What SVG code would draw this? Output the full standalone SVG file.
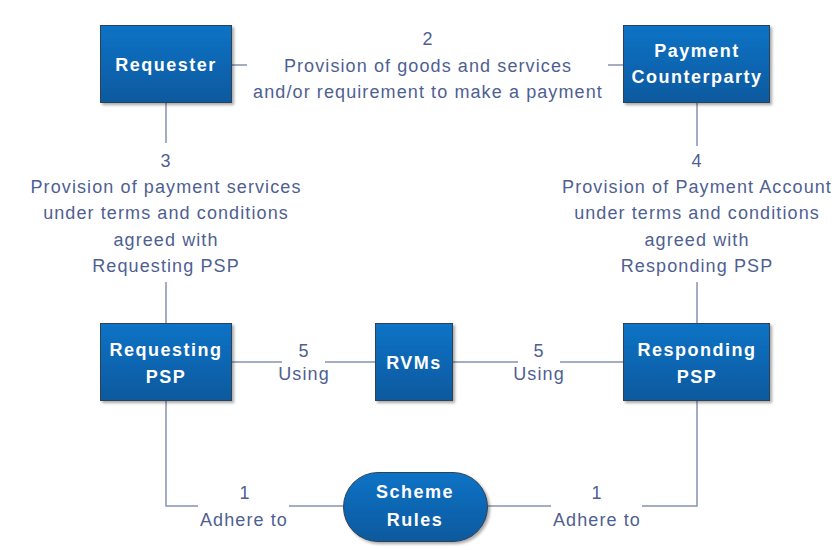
<svg xmlns="http://www.w3.org/2000/svg" width="839" height="550" viewBox="0 0 839 550">
<defs>
<linearGradient id="g" x1="0" y1="0" x2="0" y2="1">
<stop offset="0" stop-color="#0b73c6"/>
<stop offset="1" stop-color="#09599e"/>
</linearGradient>
<filter id="sh" x="-10%" y="-10%" width="125%" height="130%">
<feGaussianBlur in="SourceAlpha" stdDeviation="1.5"/>
<feOffset dx="2" dy="2" result="b"/>
<feComponentTransfer><feFuncA type="linear" slope="0.35"/></feComponentTransfer>
<feMerge><feMergeNode/><feMergeNode in="SourceGraphic"/></feMerge>
</filter>
</defs>
<style>
.box{fill:url(#g);stroke:#2f4256;stroke-width:1;filter:url(#sh)}
.nt{font-family:"Liberation Sans",Arial,sans-serif;font-weight:bold;font-size:18px;fill:#ffffff;text-anchor:middle;letter-spacing:1.5px}
.lt{font-family:"Liberation Sans",Arial,sans-serif;font-size:18px;fill:#4f5f92;text-anchor:middle;letter-spacing:1.1px}
.ln{fill:none;stroke:#8893b3;stroke-width:1.5}
</style>
<rect width="839" height="550" fill="#ffffff"/>
<g id="connectors">
<path class="ln" d="M232,65 H247 M608,65 H623"/>
<path class="ln" d="M166,103 V143 M166,282 V323"/>
<path class="ln" d="M697,103 V146 M697,282 V323"/>
<path class="ln" d="M232,362 H282 M325,362 H375"/>
<path class="ln" d="M453,362 H518 M560,362 H623"/>
<path class="ln" d="M166,401 V506 H198 M289,506 H343"/>
<path class="ln" d="M488,506 H551 M642,506 H697 V401"/>
<text class="lt" x="428" y="45">2</text>
<text class="lt" x="428" y="72">Provision of goods and services</text>
<text class="lt" x="428" y="98">and/or requirement to make a payment</text>
<text class="lt" x="166" y="167">3</text>
<text class="lt" x="166" y="193">Provision of payment services</text>
<text class="lt" x="166" y="219">under terms and conditions</text>
<text class="lt" x="166" y="246">agreed with</text>
<text class="lt" x="166" y="272">Requesting PSP</text>
<text class="lt" x="697" y="167">4</text>
<text class="lt" x="697" y="193">Provision of Payment Account</text>
<text class="lt" x="697" y="219">under terms and conditions</text>
<text class="lt" x="697" y="246">agreed with</text>
<text class="lt" x="697" y="272">Responding PSP</text>
<text class="lt" x="304" y="357">5</text>
<text class="lt" x="304" y="380">Using</text>
<text class="lt" x="539" y="357">5</text>
<text class="lt" x="539" y="380">Using</text>
<text class="lt" x="245" y="499">1</text>
<text class="lt" x="244" y="526">Adhere to</text>
<text class="lt" x="597" y="499">1</text>
<text class="lt" x="597" y="526">Adhere to</text>
</g>
<g id="requester">
<rect class="box" x="100.5" y="25.5" width="131" height="77"/>
<text class="nt" x="166" y="71">Requester</text>
</g>
<g id="payment-counterparty">
<rect class="box" x="623.5" y="25.5" width="146" height="77"/>
<text class="nt" x="697" y="57">Payment</text>
<text class="nt" x="697" y="83">Counterparty</text>
</g>
<g id="requesting-psp">
<rect class="box" x="100.5" y="323.5" width="131" height="77"/>
<text class="nt" x="166" y="356">Requesting</text>
<text class="nt" x="166" y="383">PSP</text>
</g>
<g id="rvms">
<rect class="box" x="375.5" y="323.5" width="77" height="77"/>
<text class="nt" x="414" y="369">RVMs</text>
</g>
<g id="responding-psp">
<rect class="box" x="623.5" y="323.5" width="146" height="77"/>
<text class="nt" x="697" y="356">Responding</text>
<text class="nt" x="697" y="383">PSP</text>
</g>
<g id="scheme-rules">
<rect class="box" x="343.5" y="472.5" width="144" height="69" rx="34.5" ry="34.5"/>
<text class="nt" x="415" y="498">Scheme</text>
<text class="nt" x="415" y="526">Rules</text>
</g>
</svg>
